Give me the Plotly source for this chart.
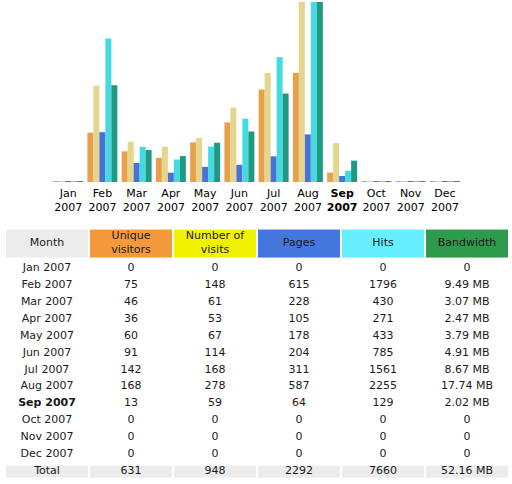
import plotly.graph_objects as go

months = ["Jan", "Feb", "Mar", "Apr", "May", "Jun", "Jul", "Aug", "Sep", "Oct", "Nov", "Dec"]
year = "2007"
current_month = "Sep"

unique_visitors = [0, 75, 46, 36, 60, 91, 142, 168, 13, 0, 0, 0]
visits = [0, 148, 61, 53, 67, 114, 168, 278, 59, 0, 0, 0]
pages = [0, 615, 228, 105, 178, 204, 311, 587, 64, 0, 0, 0]
hits = [0, 1796, 430, 271, 433, 785, 1561, 2255, 129, 0, 0, 0]
bandwidth_mb = [0, 9.49, 3.07, 2.47, 3.79, 4.91, 8.67, 17.74, 2.02, 0, 0, 0]

total_visitors = "631"
total_visits = "948"
total_pages = "2292"
total_hits = "7660"
total_bandwidth = "52.16 MB"

headers = ["Month", "Unique<br>visitors", "Number of<br>visits", "Pages", "Hits", "Bandwidth"]

FONT = "DejaVu Sans, Verdana, sans-serif"
W, H = 512, 484

bar_colors = ["#E9A04C", "#E6D58C", "#4A72D6", "#45D9E2", "#1F9A82"]
palette = ["#FFFFFF", "#ECECEC", "#F49A3C", "#F2F200", "#4477DD", "#66EEFF", "#2E9A4C"]

cats = [f"{m} {year}" for m in months]
ticktext = [f"<b>{m}<br>{year}</b>" if m == current_month else f"{m}<br>{year}" for m in months]

fig = go.Figure()

# ---------------- bar chart ----------------
series = [
    (unique_visitors, "y", "Unique visitors"),
    (visits, "y", "Number of visits"),
    (pages, "y2", "Pages"),
    (hits, "y2", "Hits"),
    (bandwidth_mb, "y3", "Bandwidth"),
]
maxes = {"y": max(visits), "y2": max(hits), "y3": max(bandwidth_mb)}
plot_px = 179.0
bw = 0.175
for i, (vals, ax, name) in enumerate(series):
    m = maxes[ax]
    onepx = m / plot_px
    fig.add_trace(go.Bar(
        x=cats, y=[v + onepx for v in vals], base=-onepx, name=name, yaxis=ax,
        width=bw, offset=-2.5 * bw + i * bw,
        marker=dict(color=bar_colors[i], line=dict(width=0)),
        hoverinfo="skip",
    ))

ydom = [1 - 182.0 / H, 1 - 2.0 / H]
def yax(m, **kw):
    onepx = m / plot_px
    d = dict(domain=ydom, range=[-onepx, m], visible=False, fixedrange=True)
    d.update(kw)
    return d

# ---------------- table (heatmap cells + text) ----------------
ncols = 6
nrows = len(cats) + 1  # months + total
row_pitch = 16.96       # px per row
first_row_center = 268.0
header_px = 32.0        # header band incl. gaps
table_top_px, table_bottom_px = 225.0, 484.0

def to_row(px):
    return (px - first_row_center) / row_pitch

hdr_top = -0.5 - header_px / row_pitch
y_edges = [hdr_top] + [r - 0.5 for r in range(nrows + 1)]
x_edges = [c - 0.5 for c in range(ncols + 1)]

z = [[1, 2, 3, 4, 5, 6]] + [[0] * ncols for _ in range(nrows - 1)] + [[1] * ncols]
n = len(palette) - 1
colorscale = []
for k, c in enumerate(palette):
    colorscale.append([k / (n + 1), c])
    colorscale.append([(k + 1) / (n + 1), c])
fig.add_trace(go.Heatmap(
    z=z, x=x_edges, y=y_edges, xaxis="x2", yaxis="y4",
    colorscale=colorscale, zmin=-0.5, zmax=n + 0.5, showscale=False,
    xgap=2, ygap=4, hoverinfo="skip",
))

col_month = [f"<b>{c}</b>" if c.startswith(current_month) else c for c in cats] + ["Total"]
def fmt(vals):
    return [str(v) for v in vals]
def fmt_bw(vals):
    return [("%.2f MB" % v) if v else "0" for v in vals]
cols = [
    col_month,
    fmt(unique_visitors) + [total_visitors],
    fmt(visits) + [total_visits],
    fmt(pages) + [total_pages],
    fmt(hits) + [total_hits],
    fmt_bw(bandwidth_mb) + [total_bandwidth],
]
tx, ty, tt = [], [], []
hdr_center = (hdr_top + (-0.5)) / 2
for c in range(ncols):
    tx.append(c); ty.append(hdr_center); tt.append(headers[c])
    for r in range(nrows):
        tx.append(c); ty.append(r); tt.append(cols[c][r])
fig.add_trace(go.Scatter(
    x=tx, y=ty, text=tt, mode="text", xaxis="x2", yaxis="y4",
    textfont=dict(family=FONT, size=11, color="#1a1a1a"),
    textposition="middle center", hoverinfo="skip",
))

fig.update_layout(
    yaxis=yax(maxes["y"]),
    yaxis2=yax(maxes["y2"], overlaying="y", anchor="x"),
    yaxis3=yax(maxes["y3"], overlaying="y", anchor="x"),
    xaxis=dict(domain=[51.0 / W, 462.0 / W], type="category", tickmode="array",
               tickvals=cats, ticktext=ticktext, showgrid=False, zeroline=False,
               showline=False, ticks="", ticklabelstandoff=3,
               tickfont=dict(family=FONT, size=11, color="#000"),
               anchor="y", fixedrange=True),
    xaxis2=dict(domain=[5.0 / W, 509.0 / W], range=[-0.5, ncols - 0.5], visible=False,
                anchor="y4", fixedrange=True),
    yaxis4=dict(domain=[1 - table_bottom_px / H, 1 - table_top_px / H],
                range=[to_row(table_bottom_px), to_row(table_top_px)],
                visible=False, anchor="x2", fixedrange=True),
    width=W, height=H, margin=dict(l=0, r=0, t=0, b=0),
    paper_bgcolor="white", plot_bgcolor="rgba(0,0,0,0)", showlegend=False,
    barmode="overlay",
)

fig.write_html("out.html")
